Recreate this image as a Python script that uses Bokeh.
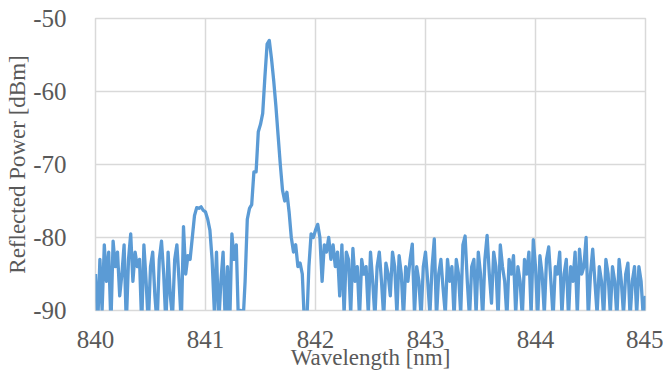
import numpy as np
from bokeh.plotting import figure
from bokeh.models import Range1d, FixedTicker
from bokeh.embed import file_html
from bokeh.resources import INLINE

# Wavelength grid: 840.00 .. 845.00 nm, step 0.02 nm
wl_start = 840.0
wl_step = 0.02

# Reflected power [dBm], one row per 0.2 nm
power = [
    -85, -92, -83, -90, -81, -86, -82, -92, -80.5, -84,        # 840.00
    -82, -88, -85, -81, -92, -83, -79.5, -86, -82, -84,        # 840.20
    -83, -92, -81, -86, -92, -84, -82, -88, -92, -83,          # 840.40
    -80.5, -85, -92, -82, -88, -91, -83, -81, -86, -92,        # 840.60
    -78.5, -85, -82.5, -83, -80, -77, -75.9, -76, -75.8, -76.3,  # 840.80
    -76.5, -77.5, -79, -83, -90, -82, -92, -86, -82, -92,      # 841.00
    -84, -92, -79.5, -83, -81, -92, -90, -92, -86, -77.5,      # 841.20
    -76, -75.5, -71, -71, -65.5, -64.5, -63, -58, -53.5, -53.0,  # 841.40
    -55.5, -58.5, -62, -66, -70, -73.5, -75, -73.8, -76.5, -80,  # 841.60
    -82, -81, -84, -83.5, -85, -92, -92, -84, -79.5, -80,      # 841.80
    -79, -78.2, -80, -86, -81, -82, -80, -83, -81, -84,        # 842.00
    -82, -88, -81, -90.5, -82, -83, -90.5, -81.5, -86, -84,    # 842.20
    -91, -83, -85, -84, -90.5, -82, -86, -91, -84, -82,        # 842.40
    -86, -91, -83.5, -85, -88, -82, -84, -90.5, -82.5, -85,    # 842.60
    -91, -84, -86, -83, -80.9, -90.5, -84, -86, -91, -84,      # 842.80
    -82, -86, -90.5, -84, -80.2, -91, -85, -83, -87, -90.5,    # 843.00
    -83, -86, -84, -91, -83, -85, -90.5, -81, -79.8, -86,      # 843.20
    -91, -84, -83, -90.5, -82, -85, -91, -83, -79.7, -85,      # 843.40
    -89, -82, -84, -91, -81, -84, -86, -91, -83, -85,          # 843.60
    -82.5, -90.5, -84, -86, -91, -83, -85, -82, -90.5, -80.3,  # 843.80
    -84, -91, -82.5, -85, -90.5, -83, -81.3, -86, -91, -84,    # 844.00
    -85, -82, -90.5, -85, -83, -91, -84, -86, -82, -90.5,      # 844.20
    -81.6, -85, -84, -80, -91, -85, -81.6, -86, -90.5, -84,    # 844.40
    -86, -91, -83, -85, -90.5, -84, -86, -91, -83, -86,        # 844.60
    -90.5, -85, -83.5, -91, -86, -84, -90.5, -84, -86, -91,    # 844.80
    -88,                                                       # 845.00
]
wavelength = np.round(wl_start + wl_step * np.arange(len(power)), 2)

x_ticks = [840, 841, 842, 843, 844, 845]
y_ticks = [-90, -80, -70, -60, -50]
x_tick_labels = ["840", "841", "842", "843", "844", "845"]
y_tick_labels = ["-90", "-80", "-70", "-60", "-50"]

FONT = "Liberation Serif"
TXT = "#595959"
GRID = "#D9D9D9"

p = figure(width=663, height=372, output_backend="svg", toolbar_location=None,
           x_range=Range1d(840, 845), y_range=Range1d(-90, -50),
           min_border_left=95, min_border_right=18, min_border_top=18, min_border_bottom=60)

p.line(wavelength, power, line_color="#5B9BD5", line_width=3.3, line_join="round")

p.xaxis.ticker = FixedTicker(ticks=x_ticks)
p.yaxis.ticker = FixedTicker(ticks=y_ticks)
p.xaxis.major_label_overrides = dict(zip(x_ticks, x_tick_labels))
p.yaxis.major_label_overrides = dict(zip(y_ticks, y_tick_labels))
p.xaxis.axis_label = "Wavelength [nm]"
p.yaxis.axis_label = "Reflected Power [dBm]"

for ax in (p.xaxis[0], p.yaxis[0]):
    ax.axis_line_color = None
    ax.major_tick_line_color = None
    ax.minor_tick_line_color = None
    ax.major_label_text_font = FONT
    ax.major_label_text_font_size = "25px"
    ax.major_label_text_color = TXT
    ax.axis_label_text_font = FONT
    ax.axis_label_text_font_size = "23px"
    ax.axis_label_text_font_style = "normal"
    ax.axis_label_text_color = TXT

p.xaxis.major_label_standoff = 14
p.xaxis.axis_label_standoff = -6
p.yaxis.major_label_standoff = 23
p.yaxis.axis_label_standoff = 0

p.xgrid.grid_line_color = GRID
p.ygrid.grid_line_color = GRID
p.xgrid.grid_line_width = 1.5
p.ygrid.grid_line_width = 1.5
p.outline_line_color = GRID
p.outline_line_width = 1.5
p.background_fill_color = "white"
p.border_fill_color = "white"

open("out.html", "w").write(file_html(p, INLINE))
